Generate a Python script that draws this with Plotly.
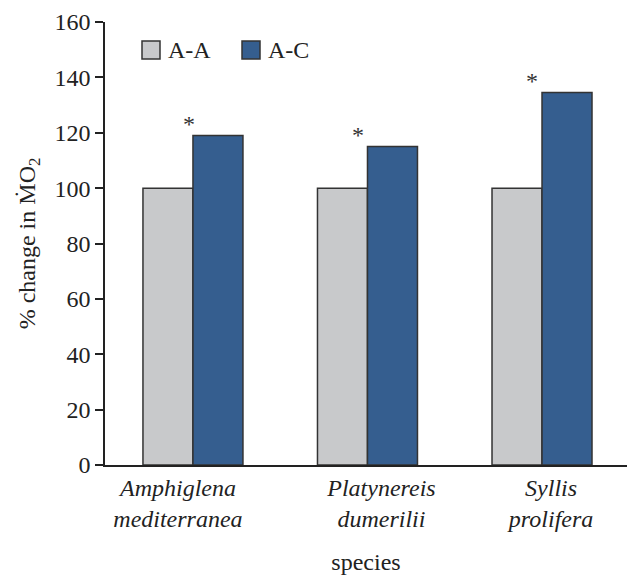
import plotly.graph_objects as go

species = ["<i>Amphiglena<br>mediterranea</i>", "<i>Platynereis<br>dumerilii</i>", "<i>Syllis<br>prolifera</i>"]
aa_values = [100, 100, 100]
ac_values = [119, 115, 134.5]
significance = ["*", "*", "*"]
series_names = ["A-A", "A-C"]
series_colors = ["#c8c9cb", "#355e8f"]
y_ticks = [0, 20, 40, 60, 80, 100, 120, 140, 160]

FONT = "Liberation Serif"
FS = 24
W, H = 627, 575
L, R, T, B = 105, 0, 22, 110
pw, ph = W - L - R, H - T - B

def px(x):
    return (x - L) / pw

def py(y):
    return (H - B - y) / ph

positions = list(range(len(species)))
label_offsets = [-0.086, 0.08, 0.052]      # small horizontal nudges of tick labels (style)
star_xshift = [-4, -9, -10]                # pixel nudges of asterisks (style)

fig = go.Figure()
for name, vals, col in zip(series_names, [aa_values, ac_values], series_colors):
    fig.add_trace(go.Bar(
        x=positions, y=vals, name=name, showlegend=False,
        marker=dict(color=col, line=dict(color="#333333", width=1.5)),
    ))

annotations = []
for p, v, s, dx in zip(positions, ac_values, significance, star_xshift):
    annotations.append(dict(x=p, y=v, text=s, showarrow=False, xref="x", yref="y",
                            xshift=dx, yshift=12, font=dict(family=FONT, size=FS, color="#333")))

# manual legend
shapes = []
legend_x = [142, 242]
for name, col, lx in zip(series_names, series_colors, legend_x):
    shapes.append(dict(type="rect", xref="paper", yref="paper",
                       x0=px(lx), x1=px(lx + 18), y0=py(59), y1=py(41),
                       fillcolor=col, line=dict(color="#333333", width=1.5)))
    annotations.append(dict(x=px(lx + 24), y=py(50), xref="paper", yref="paper", text=name,
                            showarrow=False, xanchor="left", yanchor="middle",
                            font=dict(family=FONT, size=FS, color="#222")))

fig.update_layout(
    width=W, height=H,
    margin=dict(l=L, r=R, t=T, b=B),
    paper_bgcolor="white", plot_bgcolor="white",
    barmode="group", bargap=0.427, bargroupgap=0,
    font=dict(family=FONT, size=FS, color="#222"),
    shapes=shapes, annotations=annotations,
    xaxis=dict(
        range=[-0.504, 2.487], automargin=False,
        tickvals=[p + o for p, o in zip(positions, label_offsets)], ticktext=species,
        showline=True, linecolor="#222", linewidth=1.5,
        ticks="", showgrid=False, zeroline=False,
        tickfont=dict(family=FONT, size=FS, color="#222"),
        title=dict(text="species", font=dict(family=FONT, size=FS, color="#222"), standoff=25),
    ),
    yaxis=dict(
        range=[0, 160], tickvals=y_ticks, automargin=False,
        showline=True, linecolor="#222", linewidth=1.5,
        ticks="outside", ticklen=8, tickwidth=1.5, tickcolor="#222",
        showgrid=False, zeroline=False,
        tickfont=dict(family=FONT, size=FS, color="#222"),
        title=dict(text="% change in ṀO<sub>2</sub>",
                   font=dict(family=FONT, size=FS, color="#222"), standoff=12),
    ),
)

fig.write_html("out.html", config={"displayModeBar": False},
               post_script="document.body.style.margin='0';")
